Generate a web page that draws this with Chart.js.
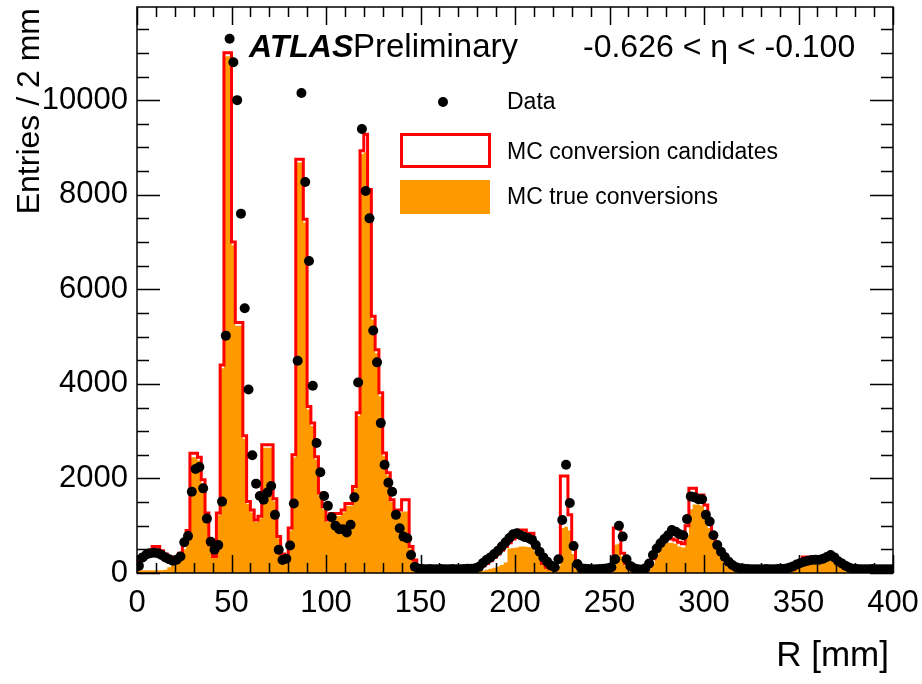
<!DOCTYPE html>
<html>
<head>
<meta charset="utf-8">
<script src="https://cdn.jsdelivr.net/npm/chart.js@4.4.1/dist/chart.umd.min.js"></script>
<style>
  html, body { margin: 0; padding: 0; background: #fff; }
</style>
</head>
<body>
<canvas id="grafica" width="922" height="684"></canvas>
<script>
// bins de 2 mm, de 0 a 400 mm (centros 1, 3, 5, ...)
const binWidth = 2;

const datos = [
  150, 330, 390, 420, 430, 420, 380, 330, 290, 260,
  280, 350, 650, 780, 1720, 2200, 2240, 1790, 1150, 660,
  490, 590, 1510, 5020, 11300, 10800, 10000, 7600, 5600, 3880,
  2490, 1890, 1630, 1550, 1700, 1840, 1230, 490, 275, 300,
  580, 1470, 4490, 10150, 8270, 6600, 3960, 2750, 2130, 1630,
  1420, 1180, 1000, 925, 925, 855, 1020, 1600, 4030, 9390,
  8080, 7500, 5130, 4455, 3170, 2290, 1910, 1720, 1230, 947,
  770, 735, 380, 133, 90, 85, 80, 85, 80, 80,
  85, 80, 80, 85, 80, 80, 85, 90, 90, 100,
  130, 210, 280, 330, 400, 470, 560, 650, 740, 820,
  840, 800, 760, 740, 700, 590, 450, 330, 240, 160,
  120, 290, 1120, 2290, 1480, 570, 190, 100, 90, 85,
  80, 80, 85, 90, 100, 120, 290, 1000, 770, 290,
  150, 100, 80, 75, 100, 200, 380, 520, 630, 720,
  800, 910, 875, 820, 800, 1140, 1620, 1600, 1560, 1560,
  1230, 1090, 800, 590, 450, 340, 240, 170, 120, 100,
  90, 85, 80, 80, 80, 80, 85, 80, 80, 85,
  85, 90, 110, 140, 180, 210, 240, 260, 275, 280,
  280, 300, 340, 380, 330, 250, 200, 150, 110, 90,
  85, 80, 80, 80, 85, 80, 80, 80, 80, 80
];

const candidatos = [
  250, 380, 420, 480, 560, 560, 470, 400, 350, 330,
  340, 420, 600, 900, 2530, 2530, 2450, 1970, 1270, 600,
  350, 1270, 4400, 11000, 11000, 7000, 5300, 5300, 2900, 1510,
  1330, 1120, 1200, 2710, 2710, 2710, 1570, 770, 400, 320,
  950, 2500, 8750, 8750, 7480, 3520, 3170, 2460, 1690, 1400,
  1120, 1260, 1260, 1260, 1330, 1470, 1470, 1830, 3390, 8930,
  9280, 8110, 5430, 4720, 3810, 2540, 2120, 1550, 1330, 1330,
  1550, 1550, 560, 275, 60, 40, 40, 40, 40, 40,
  40, 40, 40, 40, 45, 45, 50, 60, 70, 90,
  110, 150, 200, 260, 330, 400, 480, 560, 640, 720,
  750, 910, 910, 840, 840, 590, 420, 200, 120, 90,
  90, 250, 2050, 2050, 1230, 600, 200, 90, 60, 50,
  45, 45, 45, 50, 60, 100, 950, 950, 420, 200,
  100, 60, 45, 45, 60, 150, 300, 500, 650, 730,
  730, 720, 700, 650, 620, 1000, 1790, 1790, 1650, 1650,
  1440, 1100, 800, 600, 420, 300, 200, 150, 100, 80,
  60, 50, 45, 45, 45, 45, 45, 45, 45, 50,
  55, 60, 60, 80, 120, 250, 340, 340, 340, 300,
  280, 300, 320, 330, 300, 250, 200, 120, 80, 60,
  50, 45, 45, 45, 45, 45, 45, 45, 45, 45
];

const verdaderos = [
  50, 60, 60, 60, 60, 60, 60, 70, 120, 200,
  250, 330, 500, 820, 2450, 2450, 2380, 1900, 1220, 560,
  330, 1220, 4330, 10930, 10930, 6930, 5230, 5230, 2840, 1460,
  1280, 1080, 1150, 2650, 2650, 2650, 1520, 730, 370, 300,
  900, 2440, 8680, 8680, 7410, 3460, 3110, 2400, 1640, 1350,
  1080, 1210, 1210, 1210, 1280, 1420, 1420, 1780, 3320, 8860,
  8900, 8040, 5360, 4650, 3740, 2480, 2060, 1500, 1280, 1280,
  1300, 1300, 520, 250, 45, 30, 30, 30, 30, 30,
  30, 30, 30, 30, 30, 30, 30, 30, 40, 50,
  40, 50, 70, 90, 110, 140, 170, 220, 520, 530,
  540, 560, 560, 550, 540, 450, 350, 180, 100, 70,
  60, 150, 950, 980, 900, 400, 120, 50, 40, 30,
  30, 30, 30, 35, 45, 70, 600, 620, 350, 150,
  70, 40, 30, 30, 45, 80, 200, 400, 550, 620,
  640, 640, 620, 560, 540, 800, 1350, 1450, 1450, 1420,
  1250, 950, 700, 500, 350, 230, 150, 100, 60, 40,
  35, 30, 30, 30, 30, 30, 30, 30, 30, 35,
  40, 45, 50, 60, 100, 150, 180, 200, 200, 200,
  200, 220, 250, 260, 250, 200, 150, 80, 50, 40,
  35, 30, 30, 30, 30, 30, 30, 30, 30, 30
];

const xTicks = [0, 50, 100, 150, 200, 250, 300, 350, 400];
const yTicks = [0, 2000, 4000, 6000, 8000, 10000];
const xMax = 400;
const yMax = 11970;

const fuente = "'Liberation Sans', Arial, Helvetica, sans-serif";
Chart.defaults.font.family = fuente;
Chart.defaults.color = "#000";

// histograma como escalones
function escalones(vals) {
  const pts = [];
  vals.forEach((v, i) => {
    pts.push({ x: i * binWidth, y: v });
    pts.push({ x: (i + 1) * binWidth, y: v });
  });
  return pts;
}

const puntos = datos.map((v, i) => ({ x: i * binWidth + binWidth / 2, y: v }));

// marco con ticks hacia dentro (estilo ROOT)
const marco = {
  id: "marco",
  afterDatasetsDraw(chart) {
    const { ctx, chartArea: a, scales: { x, y } } = chart;
    ctx.save();
    ctx.strokeStyle = "#000";
    ctx.lineWidth = 1.5;
    ctx.beginPath();
    for (let v = 0; v <= xMax; v += 10) {
      const px = Math.round(x.getPixelForValue(v)) + 0.5;
      const len = v % 50 === 0 ? 18 : 10;
      ctx.moveTo(px, a.bottom); ctx.lineTo(px, a.bottom - len);
      ctx.moveTo(px, a.top); ctx.lineTo(px, a.top + len);
    }
    for (let v = 0; v <= yMax; v += 500) {
      const py = Math.round(y.getPixelForValue(v)) + 0.5;
      const len = v % 2000 === 0 ? 23 : 12;
      ctx.moveTo(a.left, py); ctx.lineTo(a.left + len, py);
      ctx.moveTo(a.right, py); ctx.lineTo(a.right - len, py);
    }
    ctx.stroke();
    ctx.strokeRect(a.left, a.top, a.right - a.left, a.bottom - a.top);
    ctx.restore();
  },
  afterDraw(chart) {
    const ctx = chart.ctx;
    ctx.save();
    ctx.fillStyle = "#000";
    ctx.textBaseline = "alphabetic";

    // títulos de ejes
    ctx.font = "35px " + fuente;
    ctx.textAlign = "right";
    ctx.fillText("R [mm]", 889, 666);
    ctx.font = "32px " + fuente;
    ctx.save();
    ctx.translate(39, 8);
    ctx.rotate(-Math.PI / 2);
    ctx.fillText("Entries / 2 mm", 0, 0);
    ctx.restore();

    // ATLAS Preliminary
    ctx.textAlign = "left";
    ctx.font = "italic bold 32px " + fuente;
    ctx.fillText("ATLAS", 249, 57);
    ctx.font = "33px " + fuente;
    ctx.fillText("Preliminary", 353, 57);
    ctx.font = "32px " + fuente;
    ctx.fillText("-0.626 < \u03b7 < -0.100", 583, 57);

    // leyenda
    ctx.beginPath();
    ctx.arc(443, 102, 5, 0, Math.PI * 2);
    ctx.fill();
    ctx.strokeStyle = "#ff0000";
    ctx.lineWidth = 3;
    ctx.strokeRect(401.5, 134.5, 88, 32);
    ctx.fillStyle = "#ff9900";
    ctx.fillRect(400, 180, 90, 34);

    ctx.fillStyle = "#000";
    ctx.font = "23px " + fuente;
    ctx.textBaseline = "middle";
    ctx.fillText("Data", 507, 103);
    ctx.fillText("MC conversion candidates", 507, 153);
    ctx.fillText("MC true conversions", 507, 198);
    ctx.restore();
  }
};

const ctx = document.getElementById("grafica").getContext("2d");
const chart = new Chart(ctx, {
  type: "line",
  data: {
    datasets: [
      {
        label: "Data",
        data: puntos,
        showLine: false,
        pointRadius: 5,
        pointBackgroundColor: "#000",
        pointBorderColor: "#000",
        pointBorderWidth: 0,
        order: 1
      },
      {
        label: "MC conversion candidates",
        data: escalones(candidatos),
        borderColor: "#ff0000",
        borderWidth: 3,
        pointRadius: 0,
        fill: false,
        order: 2
      },
      {
        label: "MC true conversions",
        data: escalones(verdaderos),
        borderWidth: 0,
        borderColor: "#ff9900",
        backgroundColor: "#ff9900",
        pointRadius: 0,
        fill: "origin",
        order: 3
      }
    ]
  },
  options: {
    responsive: false,
    animation: false,
    layout: { autoPadding: false, padding: { top: 7, right: 29, left: 0, bottom: 0 } },
    plugins: { legend: { display: false }, tooltip: { enabled: false } },
    scales: {
      x: {
        type: "linear",
        min: 0,
        max: xMax,
        grid: { display: false, drawTicks: false },
        border: { display: false },
        afterFit: (s) => { s.height = 111; s.paddingLeft = 0; s.paddingRight = 0; },
        afterBuildTicks: (s) => { s.ticks = xTicks.map(v => ({ value: v })); },
        ticks: { font: { size: 31 }, padding: 12, maxRotation: 0, autoSkip: false, callback: (v) => String(v) }
      },
      y: {
        type: "linear",
        min: 0,
        max: yMax,
        grid: { display: false, drawTicks: false },
        border: { display: false },
        afterFit: (s) => { s.width = 137; s.paddingTop = 0; s.paddingBottom = 0; },
        afterBuildTicks: (s) => { s.ticks = yTicks.map(v => ({ value: v })); },
        ticks: { font: { size: 31 }, padding: 9, callback: (v) => String(v) }
      }
    }
  },
  plugins: [marco]
});
</script>
</body>
</html>
